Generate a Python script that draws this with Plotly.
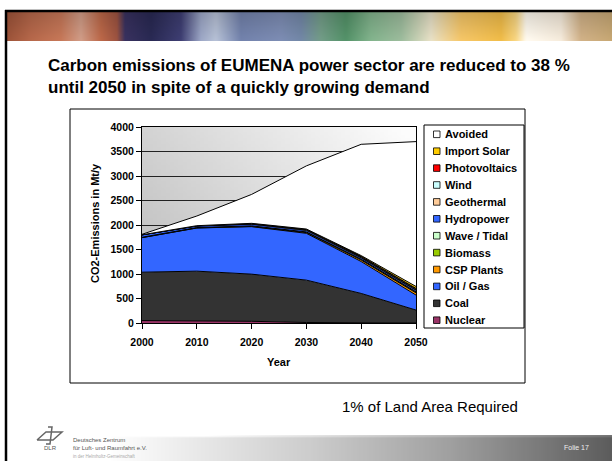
import plotly.graph_objects as go
import numpy as np
import zlib, struct, base64

# ---------------- data ----------------
years = [2000, 2010, 2020, 2030, 2040, 2050]
nuclear = [50, 45, 35, 10, 0, 0]
coal = [987, 1013, 962, 865, 603, 264]
oil_gas = [705, 881, 969, 955, 651, 306]
csp = [0, 1, 5, 15, 30, 45]
biomass = [8, 8, 10, 12, 14, 16]
wave_tidal = [0, 0, 1, 2, 4, 6]
hydropower = [48, 31, 34, 31, 28, 31]
geothermal = [0, 1, 2, 4, 6, 8]
wind = [2, 5, 10, 12, 14, 16]
photovoltaics = [0, 1, 4, 6, 10, 14]
import_solar = [0, 0, 2, 6, 16, 40]
avoided = [10, 197, 590, 1289, 2271, 2956]

series_names = ["Nuclear", "Coal", "Oil / Gas", "CSP Plants", "Biomass", "Wave / Tidal",
                "Hydropower", "Geothermal", "Wind", "Photovoltaics", "Import Solar", "Avoided"]
series_values = [nuclear, coal, oil_gas, csp, biomass, wave_tidal,
                 hydropower, geothermal, wind, photovoltaics, import_solar, avoided]
series_colors = ["#993366", "#333333", "#3366FF", "#FF9900", "#99CC00", "#CCFFCC",
                 "#3366FF", "#FFCC99", "#CCFFFF", "#FF0000", "#FFCC00", "#FFFFFF"]

y_ticks = [0, 500, 1000, 1500, 2000, 2500, 3000, 3500, 4000]

title_text = ("<b>Carbon emissions of EUMENA power sector are reduced to 38 %<br>"
              "until 2050 in spite of a quickly growing demand</b>")

FONT = "Liberation Sans, Arial, sans-serif"
W, H = 612, 461
L, R, T, B = 142, 196, 127, 138
PW, PH = W - L - R, H - T - B


def px(x):
    return (x - L) / PW


def py(y):
    return (H - B - y) / PH


def png_uri(arr):
    arr = np.clip(arr, 0, 255).astype(np.uint8)
    h, w, _ = arr.shape
    raw = b"".join(b"\x00" + arr[i].tobytes() for i in range(h))

    def chunk(t, d):
        return struct.pack(">I", len(d)) + t + d + struct.pack(">I", zlib.crc32(t + d) & 0xffffffff)

    png = (b"\x89PNG\r\n\x1a\n" + chunk(b"IHDR", struct.pack(">IIBBBBB", w, h, 8, 2, 0, 0, 0))
           + chunk(b"IDAT", zlib.compress(raw)) + chunk(b"IEND", b""))
    return "data:image/png;base64," + base64.b64encode(png).decode()


# plot-area gradient background
gw, gh = 64, 64
u = np.linspace(0, 1, gw)[None, :]
v = np.linspace(1, 0, gh)[:, None]
g = 185 + 70 * (0.62 * u + 0.38 * v)
g = np.minimum(g, 252)
bg = np.repeat(g[:, :, None], 3, axis=2)

# banner
stops = [(6, (150, 80, 55)), (30, (175, 100, 72)), (60, (190, 115, 85)), (80, (200, 150, 130)),
         (100, (180, 100, 70)), (116, (150, 80, 62)), (124, (55, 48, 92)), (150, (40, 40, 80)),
         (180, (60, 60, 110)), (200, (150, 160, 190)), (215, (175, 185, 205)), (240, (110, 125, 165)),
         (280, (120, 135, 172)), (300, (110, 130, 160)), (320, (110, 150, 130)), (345, (80, 140, 100)),
         (370, (125, 172, 135)), (400, (150, 180, 150)), (430, (222, 215, 190)), (460, (235, 190, 100)),
         (500, (230, 180, 70)), (515, (238, 205, 125)), (525, (245, 240, 230)), (560, (235, 225, 210)),
         (580, (200, 170, 130)), (612, (190, 160, 110))]
bx = np.arange(6, 612, 2)
ban_row = np.stack([np.interp(bx, [s[0] for s in stops], [s[1][c] for s in stops]) for c in range(3)], axis=1)
bh = 15
shade = np.linspace(0.9, 1.05, bh)[:, None, None]
banner = ban_row[None, :, :] * shade

# footer gradient
fx = np.arange(0, 612, 2)
fg = np.interp(fx, [0, 110, 200, 310, 450, 612], [255, 255, 232, 205, 160, 92])
fh = 13
footer = np.repeat(np.repeat(fg[None, :, None], fh, axis=0), 3, axis=2)
footer[0, :, :] = np.minimum(footer[0, :, :] + 25, 255)

fig = go.Figure()
for name, vals, col in zip(series_names, series_values, series_colors):
    fig.add_trace(go.Scatter(
        x=years, y=vals, name=name, mode="lines", stackgroup="one",
        fillcolor=col, line=dict(color="black", width=1), hoverinfo="x+y+name"))

images = [
    dict(source=png_uri(bg), xref="x", yref="y", x=2000, y=4000, sizex=50, sizey=4000,
         sizing="stretch", layer="below", xanchor="left", yanchor="top"),
    dict(source=png_uri(banner), xref="paper", yref="paper", x=px(6), y=py(12),
         sizex=px(612) - px(6), sizey=py(12) - py(41), sizing="stretch", layer="below",
         xanchor="left", yanchor="top"),
    dict(source=png_uri(footer), xref="paper", yref="paper", x=px(0), y=py(435),
         sizex=px(612) - px(0), sizey=py(435) - py(461), sizing="stretch", layer="below",
         xanchor="left", yanchor="top"),
]

shapes = [
    # chart frame
    dict(type="rect", xref="paper", yref="paper", x0=px(70), x1=px(525), y0=py(109), y1=py(383),
         line=dict(color="black", width=1), fillcolor="rgba(0,0,0,0)", layer="below"),
    # slide borders
    dict(type="line", xref="paper", yref="paper", x0=px(5), x1=px(612), y0=py(11), y1=py(11),
         line=dict(color="black", width=2.5)),
    dict(type="line", xref="paper", yref="paper", x0=px(6), x1=px(6), y0=py(10), y1=py(461),
         line=dict(color="black", width=2.5)),
    # legend box
    dict(type="rect", xref="paper", yref="paper", x0=px(424), x1=px(524), y0=py(125), y1=py(328),
         line=dict(color="black", width=1), fillcolor="white"),
]


def ann(text, x, y, size, xanchor="center", yanchor="middle", color="black", **kw):
    return dict(text=text, xref="paper", yref="paper", x=px(x), y=py(y), xanchor=xanchor,
                yanchor=yanchor, showarrow=False, font=dict(size=size, family=FONT, color=color), **kw)


annotations = [
    ann(title_text, 46, 54, 17, xanchor="left", yanchor="top", align="left"),
    ann("<b>CO2-Emissions in Mt/y</b>", 95, 223, 11, textangle=-90),
    ann("<b>Year</b>", 279, 362, 11),
    ann("1% of Land Area Required", 340, 406, 15, xanchor="left"),
    ann("Folie 17", 591, 447, 7, xanchor="right", color="#eeeeee"),
    ann("Deutsches Zentrum", 71, 440, 6, xanchor="left", color="#555555"),
    ann("für Luft- und Raumfahrt e.V.", 71, 447.5, 6, xanchor="left", color="#555555"),
    ann("in der Helmholtz-Gemeinschaft", 71, 456, 4.5, xanchor="left", color="#aaaaaa"),
    ann("DLR", 59, 447.5, 6, xanchor="right", color="#555555"),
]

# DLR logo (simple crossed-wing glyph)
logo_pts = [[(37, 440), (46, 432), (62, 432), (53, 440), (37, 440)],
            [(48, 427), (52, 427), (50, 444), (46, 444)]]
for pts in logo_pts:
    path = "M " + " L ".join(f"{px(a):.5f},{py(b):.5f}" for a, b in pts)
    shapes.append(dict(type="path", xref="paper", yref="paper", path=path,
                       line=dict(color="#666666", width=1.5)))

# custom legend (Excel-style, top entry = last stacked series)
leg_names = series_names[::-1]
leg_colors = series_colors[::-1]
for i, (nm, col) in enumerate(zip(leg_names, leg_colors)):
    yc = 134.3 + i * 16.9
    shapes.append(dict(type="rect", xref="paper", yref="paper", x0=px(433.5), x1=px(440),
                       y0=py(yc - 3.3), y1=py(yc + 3.3), fillcolor=col,
                       line=dict(color="black", width=0.8)))
    annotations.append(ann(f"<b>{nm}</b>", 442.5, yc, 11, xanchor="left"))

fig.update_layout(
    width=W, height=H, margin=dict(l=L, r=R, t=T, b=B, autoexpand=False),
    paper_bgcolor="white", plot_bgcolor="rgba(0,0,0,0)", showlegend=False,
    font=dict(family=FONT, color="black"),
    images=images, shapes=shapes, annotations=annotations,
    xaxis=dict(range=[2000, 2050], tickvals=years, ticktext=[f"<b>{y}</b>" for y in years],
               ticks="outside", ticklen=5, tickcolor="black", showline=True, linecolor="black",
               linewidth=1, mirror=True, showgrid=False, zeroline=False, ticklabelstandoff=4,
               tickfont=dict(size=10.5, family=FONT, color="black")),
    yaxis=dict(range=[0, 4000], tickvals=y_ticks, ticktext=[f"<b>{y}</b>" for y in y_ticks],
               ticks="outside", ticklen=5, tickcolor="black", showline=True, linecolor="black",
               linewidth=1, mirror=True, showgrid=True, gridcolor="#222222", gridwidth=0.8,
               zeroline=False, tickfont=dict(size=10.5, family=FONT, color="black")),
)

fig.write_html("out.html", config={"displayModeBar": False},
               post_script="document.body.style.margin='0';document.body.style.overflow='hidden';")
